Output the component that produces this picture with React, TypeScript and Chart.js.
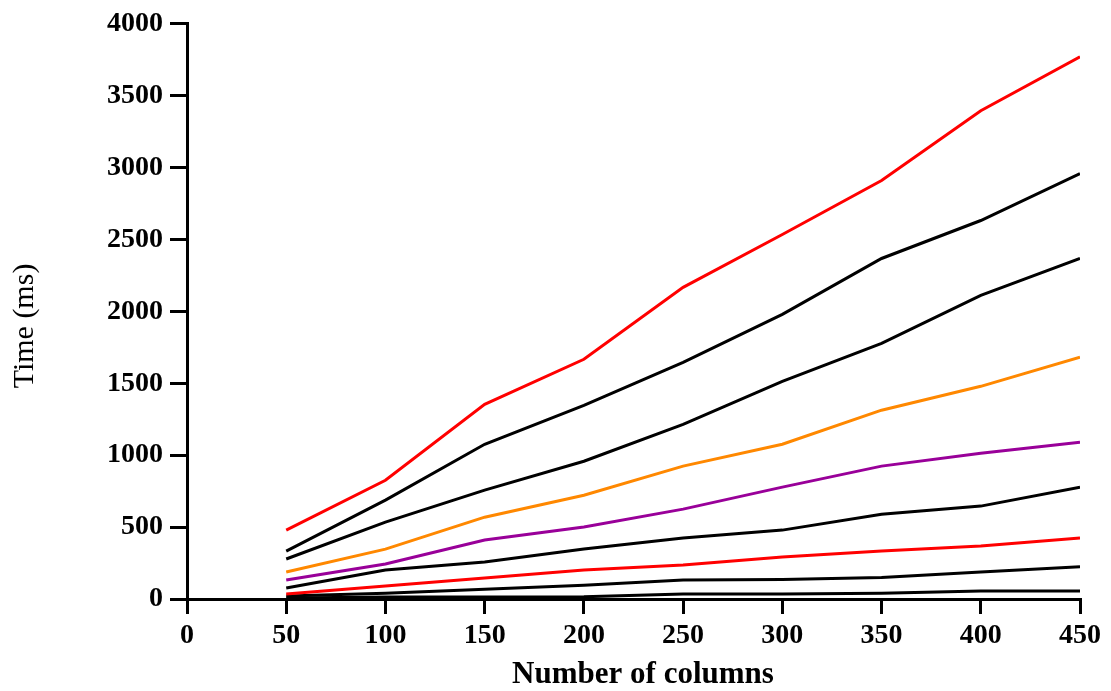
import React, { useEffect, useRef } from "react";
import { Chart, registerables } from "chart.js";

Chart.register(...registerables);

const columns = [50, 100, 150, 200, 250, 300, 350, 400, 450];
const seriesA = [479, 826, 1354, 1667, 2167, 2535, 2910, 3396, 3771];
const seriesB = [333, 688, 1076, 1347, 1646, 1979, 2368, 2632, 2958];
const seriesC = [278, 535, 757, 958, 1215, 1514, 1778, 2111, 2368];
const seriesD = [188, 347, 569, 722, 924, 1076, 1313, 1479, 1681];
const seriesE = [132, 243, 410, 500, 625, 778, 924, 1014, 1090];
const seriesF = [76, 201, 257, 347, 424, 479, 590, 646, 778];
const seriesG = [35, 90, 146, 201, 236, 292, 333, 368, 424];
const seriesH = [21, 40, 67, 95, 132, 135, 149, 188, 224];
const seriesI = [7, 14, 14, 16, 35, 35, 40, 56, 56];

const xTitle = "Number of columns";
const yTitle = "Time (ms)";

const seriesList = [
  { name: "A", values: seriesA, color: "#ff0000" },
  { name: "B", values: seriesB, color: "#000000" },
  { name: "C", values: seriesC, color: "#000000" },
  { name: "D", values: seriesD, color: "#ff8800" },
  { name: "E", values: seriesE, color: "#990099" },
  { name: "F", values: seriesF, color: "#000000" },
  { name: "G", values: seriesG, color: "#ff0000" },
  { name: "H", values: seriesH, color: "#000000" },
  { name: "I", values: seriesI, color: "#000000" },
];

const FONT = "'Liberation Serif', 'Times New Roman', serif";

const titlePlugin = {
  id: "axisTitles",
  afterDraw(chart: any) {
    const ctx = chart.ctx;
    ctx.save();
    ctx.fillStyle = "#000";
    ctx.font = `bold 31px ${FONT}`;
    ctx.textAlign = "center";
    ctx.textBaseline = "alphabetic";
    ctx.fillText(xTitle, 643, 683);
    ctx.translate(33, 326);
    ctx.rotate(-Math.PI / 2);
    ctx.font = `normal 30px ${FONT}`;
    ctx.fillText(yTitle, 0, 0);
    ctx.restore();
  },
};

export default function App() {
  const ref = useRef<HTMLCanvasElement | null>(null);
  useEffect(() => {
    if (!ref.current) return;
    const chart = new Chart(ref.current, {
      type: "line",
      data: {
        datasets: seriesList.map((s) => ({
          label: s.name,
          data: s.values.map((v, i) => ({ x: columns[i], y: v })),
          borderColor: s.color,
          backgroundColor: s.color,
          borderWidth: 3,
          pointRadius: 0,
          tension: 0,
          fill: false,
        })),
      },
      plugins: [titlePlugin],
      options: {
        responsive: false,
        animation: false,
        devicePixelRatio: 1,
        layout: { padding: { top: 23, right: 31, left: 0, bottom: 0 } },
        plugins: { legend: { display: false }, tooltip: { enabled: false } },
        scales: {
          x: {
            type: "linear",
            min: 0,
            max: 450,
            afterFit: (scale: any) => {
              scale.height = 92;
            },
            ticks: {
              stepSize: 50,
              color: "#000",
              padding: 5,
              font: { family: FONT, size: 28, weight: "bold" },
              callback: (v: any) => String(v),
            },
            grid: {
              drawOnChartArea: false,
              drawTicks: true,
              tickLength: 15,
              tickWidth: 3,
              tickColor: "#000",
              color: "#000",
              lineWidth: 3,
            },
            border: { display: true, color: "#000", width: 3 },
            title: { display: false },
          },
          y: {
            min: 0,
            max: 4000,
            afterFit: (scale: any) => {
              scale.width = 187;
            },
            ticks: {
              stepSize: 500,
              color: "#000",
              padding: 7,
              font: { family: FONT, size: 28, weight: "bold" },
              callback: (v: any) => String(v),
            },
            grid: {
              drawOnChartArea: false,
              drawTicks: true,
              tickLength: 17,
              tickWidth: 3,
              tickColor: "#000",
              color: "#000",
              lineWidth: 3,
            },
            border: { display: true, color: "#000", width: 3 },
            title: { display: false },
          },
        },
      },
    });
    return () => chart.destroy();
  }, []);
  return (
    <div style={{ position: "fixed", left: 0, top: 0, width: 1111, height: 691, background: "#fff" }}>
      <canvas ref={ref} width={1111} height={691} style={{ display: "block", width: 1111, height: 691 }} />
    </div>
  );
}
